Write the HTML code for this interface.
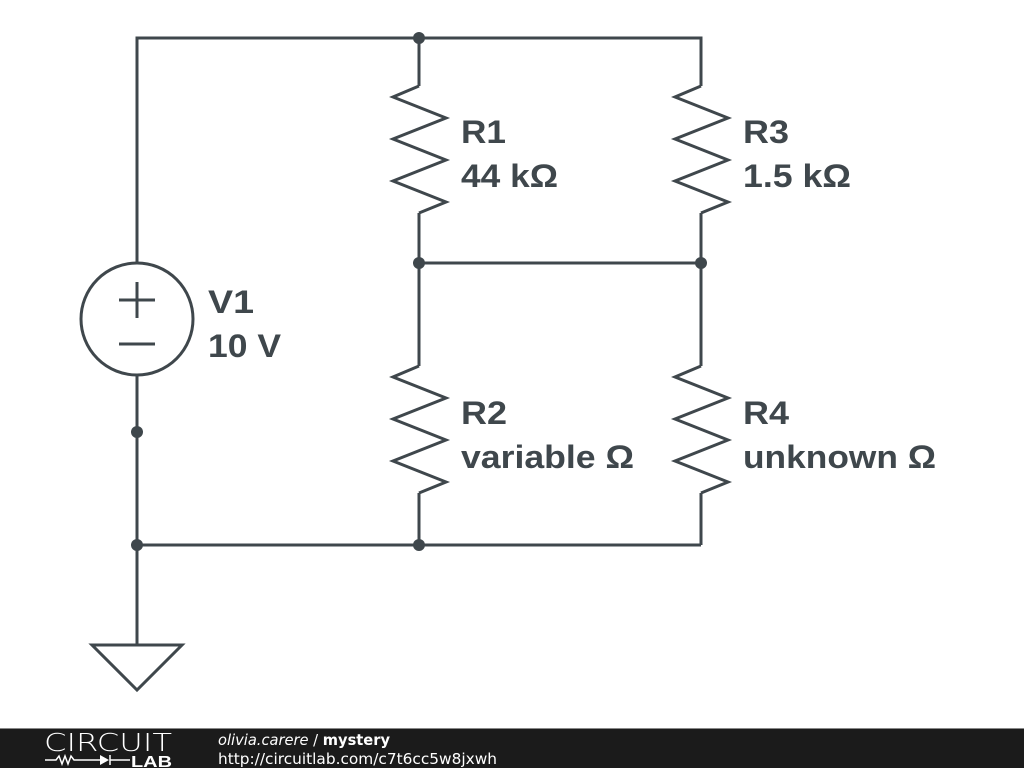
<!DOCTYPE html>
<html><head><meta charset="utf-8"><style>
html,body{margin:0;padding:0;background:#fff;}
svg{display:block}
</style></head><body>
<svg width="1024" height="768" viewBox="0 0 1024 768" xmlns="http://www.w3.org/2000/svg">
<g stroke="#3f474c" stroke-width="3" fill="none" stroke-linejoin="miter">
<polyline points="137,263 137,38 701,38 701,86"/>
<line x1="419" y1="38" x2="419" y2="86"/>
<line x1="419" y1="213" x2="419" y2="366"/>
<line x1="701" y1="213" x2="701" y2="366"/>
<line x1="419" y1="263" x2="701" y2="263"/>
<line x1="419" y1="493" x2="419" y2="545"/>
<line x1="701" y1="493" x2="701" y2="545"/>
<line x1="137" y1="545" x2="701" y2="545"/>
<line x1="137" y1="374" x2="137" y2="645"/>
<polygon points="92,645 182,645 137,690"/>
<circle cx="137" cy="319" r="56"/>
<line x1="119" y1="300" x2="155" y2="300"/>
<line x1="137" y1="282" x2="137" y2="318"/>
<line x1="119" y1="344" x2="155" y2="344"/>
<polyline points="419,86 393,97 446,118 393,139 446,160 393,181 446,202 419,213"/>
<polyline points="701,86 675,97 728,118 675,139 728,160 675,181 728,202 701,213"/>
<polyline points="419,366 393,377 446,398 393,419 446,440 393,461 446,482 419,493"/>
<polyline points="701,366 675,377 728,398 675,419 728,440 675,461 728,482 701,493"/>
</g>
<g fill="#3f474c">
<circle cx="419" cy="38" r="6"/>
<circle cx="419" cy="263" r="6"/>
<circle cx="701" cy="263" r="6"/>
<circle cx="137" cy="432" r="6"/>
<circle cx="137" cy="545" r="6"/>
<circle cx="419" cy="545" r="6"/>
</g>
<g fill="#3f474c" font-family="Liberation Sans, sans-serif" font-weight="bold" font-size="32" lengthAdjust="spacingAndGlyphs">
<text x="208" y="313" textLength="46" lengthAdjust="spacingAndGlyphs">V1</text>
<text x="208" y="357" textLength="73" lengthAdjust="spacingAndGlyphs">10 V</text>
<text x="461" y="143" textLength="45" lengthAdjust="spacingAndGlyphs">R1</text>
<text x="461" y="187" textLength="97" lengthAdjust="spacingAndGlyphs">44 kΩ</text>
<text x="743" y="143" textLength="46" lengthAdjust="spacingAndGlyphs">R3</text>
<text x="743" y="187" textLength="108" lengthAdjust="spacingAndGlyphs">1.5 kΩ</text>
<text x="461" y="424" textLength="46" lengthAdjust="spacingAndGlyphs">R2</text>
<text x="461" y="468" textLength="173" lengthAdjust="spacingAndGlyphs">variable Ω</text>
<text x="743" y="424" textLength="46" lengthAdjust="spacingAndGlyphs">R4</text>
<text x="743" y="468" textLength="193" lengthAdjust="spacingAndGlyphs">unknown Ω</text>
</g>
<rect x="0" y="728" width="1024" height="40" fill="#1b1b1b"/>
<line x1="0" y1="728.5" x2="1024" y2="728.5" stroke="#888" stroke-width="1"/>
<text x="44" y="751" fill="#fff" font-family="DejaVu Sans, sans-serif" font-size="25" textLength="128" lengthAdjust="spacingAndGlyphs" style="font-weight:lighter">CIRCUIT</text>
<g stroke="#fff" stroke-width="1.5" fill="none">
<polyline points="45,760 56,760 59,756 62,764 65,756 68,764 71,756 74,760 100,760"/>
<line x1="110" y1="755" x2="110" y2="765"/>
<line x1="110" y1="760" x2="130" y2="760"/>
</g>
<polygon points="100,755 100,765 109,760" fill="#fff"/>
<text x="131" y="767" fill="#fff" font-family="Liberation Sans, sans-serif" font-size="16" font-weight="bold" textLength="41" lengthAdjust="spacingAndGlyphs">LAB</text>
<text x="218" y="745" fill="#fff" font-family="DejaVu Sans, sans-serif" font-size="15" textLength="172" lengthAdjust="spacingAndGlyphs"><tspan font-style="italic">olivia.carere</tspan> / <tspan font-weight="bold">mystery</tspan></text>
<text x="218" y="764" fill="#fff" font-family="DejaVu Sans, sans-serif" font-size="15" textLength="279" lengthAdjust="spacingAndGlyphs">http://circuitlab.com/c7t6cc5w8jxwh</text>
</svg>
</body></html>
